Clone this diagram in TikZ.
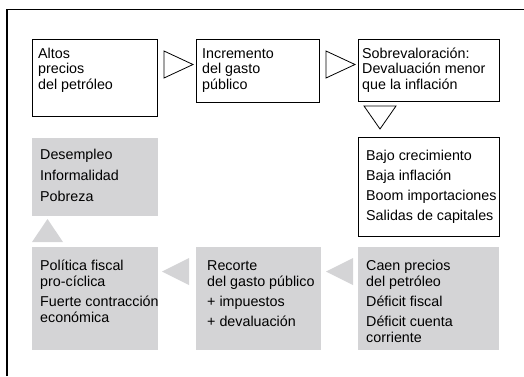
\documentclass[tikz,border=0pt]{standalone}
\usepackage{fontspec}
\setmainfont{Liberation Sans}
\usetikzlibrary{calc}
\definecolor{boxgray}{RGB}{212,212,214}
\begin{document}
\begin{tikzpicture}[x=1pt,y=-1pt,
  wbox/.style={draw=black, line width=1pt, fill=white, inner sep=0pt, anchor=north west},
  gbox/.style={fill=boxgray, draw=none, inner sep=0pt, anchor=north west},
  txt/.style={inner sep=0pt, anchor=north west, align=left, font=\fontsize{14.3}{15.5}\selectfont},
  ltxt/.style={txt, font=\fontsize{14.3}{16}\selectfont},
  wtri/.style={draw=black, line width=0.8pt, fill=white, line join=miter},
  gtri/.style={fill=boxgray, draw=none}]
\useasboundingbox (0,0) rectangle (524,376);
\draw[line width=1.2pt] (7,376) -- (7,9.5) -- (524,9.5);
% top row
\node[wbox, minimum width=125pt, minimum height=77pt] (b1) at (32,39) {};
\node[wbox, minimum width=123pt, minimum height=63pt] (b2) at (196,39) {};
\node[wbox, minimum width=141pt, minimum height=62pt] (b3) at (358,39) {};
\node[txt] (t1) at ($(b1.north west)+(6,5)$) {\rule{0pt}{14pt}Altos\\precios\\del petróleo};
\node[txt] (t2) at ($(b2.north west)+(6,5)$) {\rule{0pt}{14pt}Incremento\\del gasto\\público};
\node[txt] (t3) at ($(b3.north west)+(4,5)$) {\rule{0pt}{14pt}Sobrevaloración:\\Devaluación menor\\que la inflación};
% right list box
\node[wbox, minimum width=141pt, minimum height=99pt] (b4) at (358,137) {};
\node[ltxt] (t4) at ($(b4.north west)+(8,9)$) {\rule{0pt}{14pt}Bajo crecimiento\\[4pt]Baja inflación\\[4pt]Boom importaciones\\[4pt]Salidas de capitales};
% gray boxes
\node[gbox, minimum width=126pt, minimum height=78pt] (g1) at (32,138) {};
\node[ltxt] (u1) at ($(g1.north west)+(8,7)$) {\rule{0pt}{14pt}Desempleo\\[5pt]Informalidad\\[5pt]Pobreza};
\node[gbox, minimum width=126pt, minimum height=103pt] (g3) at (32,247) {};
\node[gbox, minimum width=125pt, minimum height=103pt] (g2) at (196,247) {};
\node[gbox, minimum width=141pt, minimum height=103pt] (g4) at (358,247) {};
\node[ltxt] (u3) at ($(g3.north west)+(8,9)$) {\rule{0pt}{14pt}Política fiscal\\pro-cíclica\\[4pt]Fuerte contracción\\económica};
\node[ltxt] (u2) at ($(g2.north west)+(11,9)$) {\rule{0pt}{14pt}Recorte\\del gasto público\\[4pt]+ impuestos\\[4pt]+ devaluación};
\node[ltxt] (u4) at ($(g4.north west)+(8,9)$) {\rule{0pt}{14pt}Caen precios\\del petróleo\\[4pt]Déficit fiscal\\[4pt]Déficit cuenta\\corriente};
% triangle connectors
\draw[wtri] ($(b1.north east)+(6,12)$) -- ($(b1.north east)+(6,39)$) -- ($(b1.north east)+(35,25.5)$) -- cycle;
\draw[wtri] ($(b2.north east)+(6,12)$) -- ($(b2.north east)+(6,39)$) -- ($(b2.north east)+(35,25.5)$) -- cycle;
\draw[wtri] ($(b3.south west)+(6,4)$) -- ($(b3.south west)+(38,4)$) -- ($(b3.south west)+(22,27)$) -- cycle;
\fill[gtri] ($(g4.north west)+(-5,11)$) -- ($(g4.north west)+(-5,38)$) -- ($(g4.north west)+(-32,24.5)$) -- cycle;
\fill[gtri] ($(g2.north west)+(-7,11)$) -- ($(g2.north west)+(-7,38)$) -- ($(g2.north west)+(-34,24.5)$) -- cycle;
\fill[gtri] ($(g3.north west)+(0,-5)$) -- ($(g3.north west)+(31,-5)$) -- ($(g3.north west)+(15.5,-28)$) -- cycle;
\end{tikzpicture}
\end{document}
